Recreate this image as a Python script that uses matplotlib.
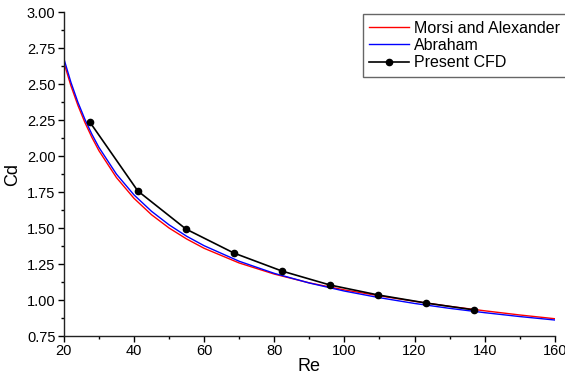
import matplotlib.pyplot as plt
import numpy as np

plt.rcParams['font.family'] = ['Liberation Sans', 'DejaVu Sans']

# curves
re_curve = [20, 22, 24, 26, 28, 30, 35, 40, 45, 50, 55, 60, 70, 80, 90,
            100, 110, 120, 130, 140, 150, 160]
cd_morsi = [2.650, 2.489, 2.352, 2.233, 2.129, 2.037, 1.850, 1.706, 1.592,
            1.500, 1.424, 1.359, 1.257, 1.180, 1.119, 1.070, 1.029, 0.991,
            0.956, 0.925, 0.896, 0.870]
cd_abraham = [2.677, 2.513, 2.374, 2.255, 2.151, 2.060, 1.874, 1.730, 1.616,
              1.522, 1.443, 1.377, 1.269, 1.185, 1.118, 1.062, 1.016, 0.976,
              0.942, 0.912, 0.885, 0.861]

# CFD points
re_cfd = [27.4, 41.1, 54.8, 68.5, 82.2, 95.9, 109.6, 123.3, 137.0]
cd_cfd = [2.236, 1.757, 1.493, 1.326, 1.201, 1.104, 1.035, 0.979, 0.931]

fig = plt.figure(figsize=(5.65, 3.75), dpi=100)
ax = fig.add_axes([0.113, 0.104, 0.869, 0.864])

ax.plot(re_curve, cd_morsi, color='#ff0000', lw=1.0, label='Morsi and Alexander')
ax.plot(re_curve, cd_abraham, color='#0000ff', lw=1.0, label='Abraham')
ax.plot(re_cfd, cd_cfd, color='black', lw=1.2, marker='o', ms=4.5,
        label='Present CFD')

ax.set_xlim(20, 160)
ax.set_ylim(0.75, 3.0)
ax.set_xticks(np.arange(20, 161, 20))
ax.set_xticks(np.arange(20, 161, 10), minor=True)
ax.set_yticks(np.arange(0.75, 3.01, 0.25))
ax.set_yticks(np.arange(0.75, 3.01, 0.125), minor=True)
ax.yaxis.set_major_formatter(plt.FormatStrFormatter('%.2f'))

for s in ['top', 'right']:
    ax.spines[s].set_visible(False)
for s in ['left', 'bottom']:
    ax.spines[s].set_color('#222222')
    ax.spines[s].set_linewidth(1.0)

ax.tick_params(which='major', direction='out', length=4, width=1,
               labelsize=10.5, pad=2)
ax.tick_params(which='minor', direction='out', length=2.5, width=1)

ax.set_xlabel('Re', fontsize=13, labelpad=0)
ax.set_ylabel('Cd', fontsize=13, labelpad=4)

leg = ax.legend(loc='upper left', bbox_to_anchor=(0.642, 0.962),
                bbox_transform=fig.transFigure, fontsize=11.5,
                fancybox=False, edgecolor='#666666', framealpha=1,
                handlelength=2.5, handletextpad=0.3, labelspacing=0.15,
                borderpad=0.4, borderaxespad=0, numpoints=1)
leg.get_frame().set_linewidth(1.0)

fig.savefig('out.png', dpi=100)
